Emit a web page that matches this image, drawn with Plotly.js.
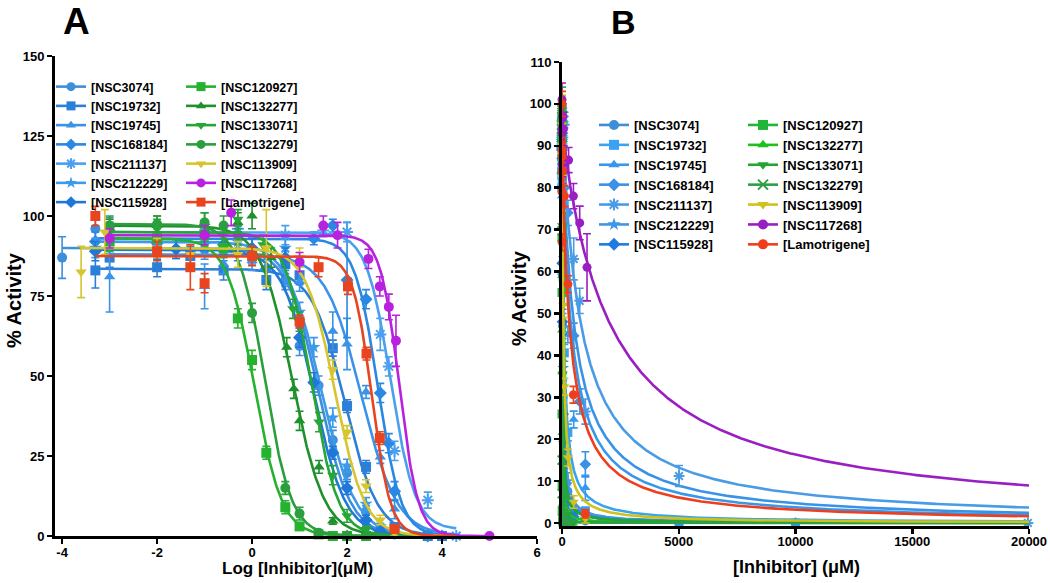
<!DOCTYPE html>
<html><head><meta charset="utf-8">
<script src="https://cdn.plot.ly/plotly-3.0.1.min.js"></script>
<style>html,body{margin:0;padding:0;background:#fff}#chart{width:1050px;height:583px}</style>
</head><body><div id="chart"></div>
<script>
// ---------- DATA ----------
const compounds = ['NSC3074','NSC19732','NSC19745','NSC168184','NSC211137','NSC212229','NSC115928',
                   'NSC120927','NSC132277','NSC133071','NSC132279','NSC113909','NSC117268','Lamotrigene'];
const legendLabels = compounds.map(c => '[' + c + ']');

// Panel A fitted dose-response parameters
const topA      = [90, 83.5, 88, 93, 95, 92, 89.5, 93, 97, 95, 97.5, 90, 94, 87.5];
const bottomA   = [0, 0, 0, 0, 2, 0, 0, 0, 0, 0, 0, 0, 0, 0];
const logIC50A  = [1.4, 1.95, 2.3, 2.65, 2.92, 1.45, 1.3, 0.05, 0.85, 1.25, 0.27, 1.75, 3.1, 2.52];
const hillA     = [1.3, 1.25, 1.15, 1.8, 1.7, 1.2, 1.3, 1.5, 1.3, 1.55, 1.55, 1.4, 2.2, 2.2];

// Panel B fitted parameters (linear concentration, µM)
const ic50B = [25, 90, 441, 530, 806, 30, 20, 1.1, 7, 18, 1.9, 60, 2100, 372];
const hillB = [1, 1, 1, 1, 1, 1, 1, 1, 1, 1, 1, 1, 1, 1];

// Measured points: log concentration (µM), % activity, SEM
const logConc = [
  [-4,-3.3,-3,-2,-1,0,0.7,1.0,1.4,1.7,2.0,2.4,2.7,3.0],
  [-3.3,-3,-2,-1.3,-0.6,0.3,0.7,1.0,1.7,2.0,2.4,3.0,3.7,4.0],
  [-3,-1,-0.6,0.0,0.7,1.0,1.7,2.0,2.4,2.7,3.0],
  [-3.3,-2,-1.6,-0.3,0.3,1.3,1.7,2.0,2.4,2.7,2.88,3.0,3.7,4.0],
  [-3,-1,-0.3,0.7,1.5,2.0,2.7,2.88,3.0,3.7,4.3],
  [-3.3,-2,-1,-0.3,0.7,1.0,1.3,1.7,2.0,2.4,2.7,3.0],
  [-3.3,-2,-1.6,-0.6,0.0,0.7,1.0,1.3,1.7,2.0,2.4,2.7],
  [-3,-2,-1,-0.6,-0.3,0,0.3,0.7,1.0,1.4,1.7,2.0,2.4],
  [-3,-2,-1,-0.3,0,0.4,0.73,0.88,1.0,1.41,1.7,2.0,2.4],
  [-3,-2,-1,-0.3,0.23,0.86,1.0,1.41,1.7,2.0,2.4,2.7],
  [-3,-2,-1,-0.6,-0.3,0,0.7,1.0,1.4,2.0,2.4],
  [-3.6,-3.1,-2,-1.3,-0.3,0.3,1.0,1.7,2.0,2.4,2.7,3.0],
  [-3,-1,-0.44,1.0,1.5,1.8,2.45,2.69,2.88,3.03,5.0],
  [-3.3,-2,-1.3,-1,0,1.0,1.4,2.02,2.41,2.69,3.0]
];
const activity = [
  [87,96,96.5,91.5,89.5,89,80,59.4,47,30,19.7,7.5,2.5,0.5],
  [83,87,84,87.5,83,80,85,81.5,58.7,40.6,21.6,2.8,0,0],
  [81,78,85,86,80,79.5,64,60,45,24.7,8.4],
  [92,91.5,89.7,89,83.5,93,97,80,74,44.7,29,14,0,0],
  [93,95,96,94,95.5,95,63,53,26.6,11.2,0],
  [90,92,91,92,90,70,59,37,22,10,3,1],
  [89,89.5,89.7,91,90,87,62,48,26,15,5,1.5],
  [92,93,94,90,68,55,26,9,3,0.5,0,0,0],
  [96,97,98,98,100,87,59,46,36,21.6,4.7,0.5,0],
  [95,96,95,99,91,71,67,35.6,19,6.3,2,0],
  [97,97.5,98,97,94,69.7,15,7,1,0,0],
  [82.5,95,90,88,88,90,87,52,32.5,15.6,5,1],
  [93,94,101,85.6,97,94,86.6,78,71.6,61,0],
  [100,89,84,79,87.5,67,84,78,57,30.6,2.2]
];
const activityErr = [
  [6.5,4,3,3,3,4,3,3,3,3,2,2,1,0.5],
  [5.5,3,3,3,3,3,4,3,2.5,2,2,1,0.5,0.5],
  [11,7,3,3,2,3,6,8,2,2,3],
  [3,2,3,3,3,2,2,18,3,3,3,3,0.5,0.5],
  [3,3,3,3,2,3,5,3,3,2.5,0.5],
  [3,3,3,3,3,3,3,3,2,2,1,0.5],
  [3,3,3,3,3,3,3,3,2,2,1.5,1],
  [3,3,3,3,3,3,2,2,1,0.5,0.5,0.5,0.5],
  [3,3,3,3,4,3,3,3,3,2,1,0.5,0.5],
  [3,3,3,3,3,3,3,3,3,2,1,0.5],
  [3,2.5,3,3,3,3,2,2,1,0.5,0.5],
  [8,7,3,3,4,12,3,3,2,2,1.5,1],
  [3,3,4,3,3,4,3,3,4,8,0.5],
  [3,3,7,3,3,2,3,2.5,2,2,1]
];

// Axis ticks
const xTicksA = [-4,-2,0,2,4,6];
const xTickTextA = ['-4','-2','0','2','4','6'];
const yTicksA = [0,25,50,75,100,125,150];
const xTicksB = [0,5000,10000,15000,20000];
const xTickTextB = ['0','5000','10000','15000','20000'];
const yTicksB = [0,10,20,30,40,50,60,70,80,90,100,110];

// ---------- STYLE ----------
const colorsA = ['#3d8fdc','#2c7fd6','#3a93e8','#2a88e2','#4aa0ee','#3d9aea','#1f78d8',
                 '#25b22e','#1e902c','#26a636','#2b9e3e','#d6c52e','#b822df','#e8441f'];
const colorsB = ['#3c8fd6','#39a3f2','#3797ea','#3a92e6','#4a9be6','#3f95e6','#1f7be0',
                 '#22b53a','#1cc01f','#23a630','#2e9e48','#cfc21c','#9a1fc3','#ee3e1e'];
const symbolsA = ['circle','square','triangle-up','diamond','asterisk-open','star','diamond',
                  'square','triangle-up','triangle-down','circle','triangle-down','circle','square'];
const symbolsB = ['circle','square','triangle-up','diamond','asterisk-open','star','diamond',
                  'square','triangle-up','triangle-down','x-thin-open','triangle-down','circle','circle'];
const FONT = 'Liberation Sans, Arial, Helvetica, sans-serif';

function isOpen(s){ return s.indexOf('open') >= 0; }
function markerOf(sym, col, size){
  return isOpen(sym) ? {symbol:sym, size:size, color:col, line:{color:col, width:2}}
                     : {symbol:sym, size:size, color:col, line:{width:0}};
}
function logistic(top, bottom, x, c, h){ return bottom + (top - bottom) / (1 + Math.pow(10, (x - c) * h)); }

const traces = [];
// Panel A
compounds.forEach((name, i) => {
  const xs = logConc[i];
  const xmin = Math.min(...xs);
  const xmax = Math.max(Math.max(...xs), 4.3);
  const cx = [], cy = [];
  for (let k = 0; ; k++) {
    const v = xmin + k * 0.02;
    if (v > xmax + 1e-9) break;
    cx.push(v); cy.push(logistic(topA[i], bottomA[i], v, logIC50A[i], hillA[i]));
  }
  traces.push({type:'scatter', x:cx, y:cy, xaxis:'x', yaxis:'y', mode:'lines',
    line:{color:colorsA[i], width:2.6}, showlegend:false, hoverinfo:'skip', cliponaxis:false});
  traces.push({type:'scatter', x:xs, y:activity[i], xaxis:'x', yaxis:'y', mode:'markers',
    marker:markerOf(symbolsA[i], colorsA[i], 10),
    error_y:{type:'data', array:activityErr[i], color:colorsA[i], thickness:1.6, width:4},
    showlegend:false, cliponaxis:false});
  traces.push({type:'scatter', x:[null], y:[null], xaxis:'x', yaxis:'y', mode:'lines+markers',
    name:legendLabels[i], legend: i < 7 ? 'legend' : 'legend2',
    line:{color:colorsA[i], width:2.6}, marker:markerOf(symbolsA[i], colorsA[i], 9), showlegend:true});
});
// Panel B
compounds.forEach((name, i) => {
  const cx = [], cy = [];
  const N = 500;
  for (let k = 0; k <= N; k++) {
    const x = xTicksB[xTicksB.length-1] * Math.pow(k / N, 3);
    cx.push(x); cy.push(topA[i] / (1 + Math.pow(x / ic50B[i], hillB[i])));
  }
  traces.push({type:'scatter', x:cx, y:cy, xaxis:'x2', yaxis:'y2', mode:'lines',
    line:{color:colorsB[i], width:2.6}, showlegend:false, hoverinfo:'skip', cliponaxis:false});
  const bx = [], by = [], be = [];
  logConc[i].forEach((lx, j) => {
    const c = Math.pow(10, lx);
    if (c <= xTicksB[xTicksB.length-1]) { bx.push(c); by.push(activity[i][j]); be.push(activityErr[i][j]); }
  });
  traces.push({type:'scatter', x:bx, y:by, xaxis:'x2', yaxis:'y2', mode:'markers',
    marker:markerOf(symbolsB[i], colorsB[i], 9),
    error_y:{type:'data', array:be, color:colorsB[i], thickness:1.6, width:4},
    showlegend:false, cliponaxis:false});
  traces.push({type:'scatter', x:[null], y:[null], xaxis:'x2', yaxis:'y2', mode:'lines+markers',
    name:legendLabels[i], legend: i < 7 ? 'legend3' : 'legend4',
    line:{color:colorsB[i], width:2.6}, marker:markerOf(symbolsB[i], colorsB[i], 10), showlegend:true});
});

const W = 1050, H = 583;
const px = v => v / W, py = v => 1 - v / H;
const tickFont = {family:FONT, size:13, weight:700, color:'#000'};
const axisCommon = {showline:true, linecolor:'#000', linewidth:3, ticks:'outside', ticklen:5, tickwidth:2.5,
  tickcolor:'#000', showgrid:false, zeroline:false, tickfont:tickFont, fixedrange:true};
function leg(x, y, size){ return {x:px(x), y:py(y), xanchor:'left', yanchor:'top',
  font:{family:FONT, size:size, weight:700, color:'#000'},
  bgcolor:'rgba(0,0,0,0)', borderwidth:0, itemwidth:30, tracegroupgap:0, traceorder:'normal'}; }
function ann(text, x, y, size, angle){
  return {text:text, x:px(x), y:py(y), xref:'paper', yref:'paper', xanchor:'center', yanchor:'middle',
    showarrow:false, textangle:angle || 0, font:{family:FONT, size:size, weight:700, color:'#000'}};
}

const layout = {
  width:W, height:H, margin:{l:0, r:0, t:0, b:0}, paper_bgcolor:'#fff', plot_bgcolor:'#fff',
  showlegend:true, hovermode:false,
  xaxis: Object.assign({}, axisCommon, {domain:[px(55), px(537)], range:[-4.15, 6], tickmode:'array',
    tickvals:xTicksA, ticktext:xTickTextA, anchor:'y', ticklabelstandoff:-3}),
  yaxis: Object.assign({}, axisCommon, {domain:[1-536/H, 1-56/H], range:[0,150], tickmode:'array',
    tickvals:yTicksA, anchor:'x'}),
  xaxis2: Object.assign({}, axisCommon, {domain:[px(562), px(1029)], range:[0, 20000], tickmode:'array',
    tickvals:xTicksB, ticktext:xTickTextB, anchor:'y2', ticklabelstandoff:-3}),
  yaxis2: Object.assign({}, axisCommon, {domain:[1-525.5/H, 1-62/H], range:[-0.6, 110], tickmode:'array',
    tickvals:yTicksB, anchor:'x2'}),
  legend: leg(51, 72, 12.5),
  legend2: leg(181, 72, 12.5),
  legend3: leg(594, 110, 13),
  legend4: leg(743, 110, 13),
  annotations: [
    ann('A', 76, 22, 37),
    ann('B', 623, 22, 34),
    ann('% Activity', 14, 300, 20, -90),
    ann('% Activity', 519, 298, 20, -90),
    ann('Log [Inhibitor](μM)', 297, 568, 17),
    ann('[Inhibitor] (μM)', 796, 567, 18)
  ]
};
Plotly.newPlot('chart', traces, layout, {staticPlot:true, displayModeBar:false});
</script></body></html>
